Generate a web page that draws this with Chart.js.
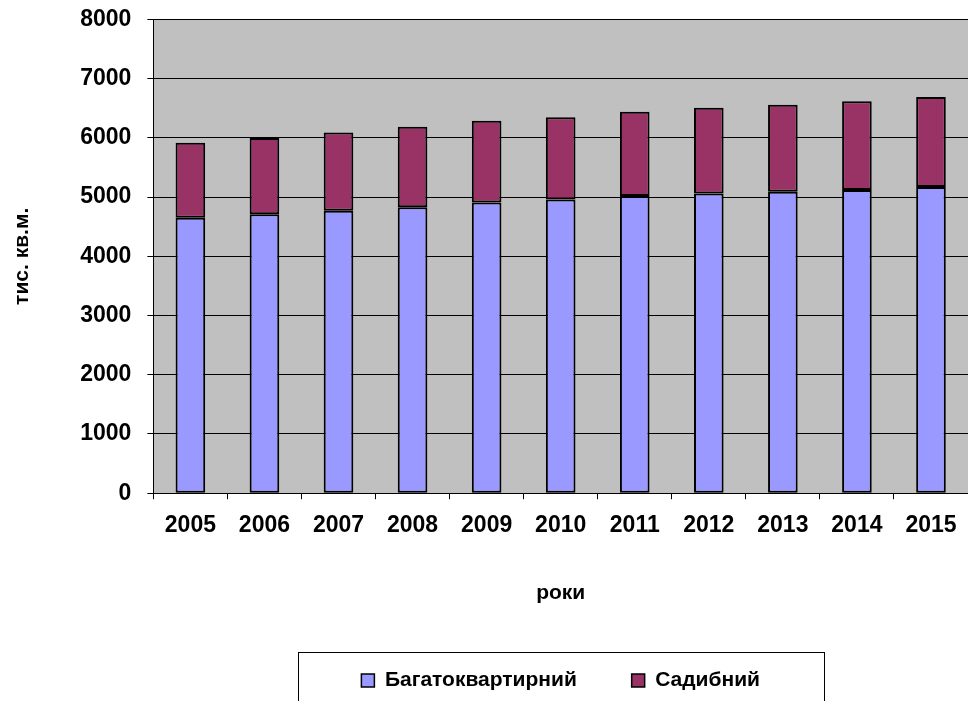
<!DOCTYPE html>
<html>
<head>
<meta charset="utf-8">
<script src="https://cdn.jsdelivr.net/npm/chart.js@4/dist/chart.umd.min.js"></script>
<style>
html,body{margin:0;padding:0;background:#fff;}
#wrap{width:968px;height:701px;}
</style>
</head>
<body>
<div id="wrap"><canvas id="c" width="968" height="701"></canvas></div>
<script>
const years = ['2005','2006','2007','2008','2009','2010','2011','2012','2013','2014','2015'];
const multiApartment = [4650,4710,4770,4830,4910,4960,5020,5060,5090,5120,5170];
const privateHouses = [1270,1290,1320,1360,1380,1390,1420,1450,1470,1500,1520];
const seriesNames = ['Багатоквартирний','Садибний'];
const yTitle = 'тис. кв.м.';
const xTitle = 'роки';

const FONT = "'Liberation Sans', Arial, sans-serif";

const bgPlugin = {
  id: 'plotBg',
  beforeDraw(chart) {
    const a = chart.chartArea, ctx = chart.ctx;
    ctx.save();
    ctx.fillStyle = '#c0c0c0';
    ctx.fillRect(a.left, a.top, a.right - a.left, a.bottom - a.top);
    ctx.restore();
  },
  afterDraw(chart) {
    const lg = chart.legend, ctx = chart.ctx;
    if (!lg) return;
    const cx = (chart.chartArea.left + chart.chartArea.right) / 2;
    ctx.save();
    ctx.strokeStyle = '#000';
    ctx.lineWidth = 1;
    ctx.strokeRect(Math.round(cx - 263) + 0.5, Math.round(lg.top) - 4 + 0.5, 526, 80);
    ctx.restore();
  }
};

new Chart(document.getElementById('c'), {
  type: 'bar',
  data: {
    labels: years,
    datasets: [
      { label: seriesNames[0], data: multiApartment, backgroundColor: '#9999ff', borderColor: '#000', borderWidth: 2, borderSkipped: false },
      { label: seriesNames[1], data: privateHouses, backgroundColor: '#993366', borderColor: '#000', borderWidth: 2, borderSkipped: false }
    ]
  },
  options: {
    responsive: false,
    animation: false,
    devicePixelRatio: 1,
    layout: { padding: { top: 3, right: -2, left: 10, bottom: 0 } },
    datasets: { bar: { barPercentage: 0.4, categoryPercentage: 1.0 } },
    scales: {
      x: {
        stacked: true,
        offset: true,
        afterFit: (scale) => { scale.paddingRight = 0; },
        grid: { display: true, drawOnChartArea: false, offset: true, color: '#000', tickLength: 6, tickColor: '#000' },
        border: { display: true, color: '#000', width: 1 },
        ticks: { color: '#000', font: { family: FONT, size: 23, weight: 'bold' }, padding: 13, maxRotation: 0 },
        title: { display: true, text: xTitle, color: '#000', font: { family: FONT, size: 21, weight: 'bold' }, padding: { top: 28, bottom: 50 } }
      },
      y: {
        stacked: true,
        min: 0, max: 8000,
        grid: { color: '#000', lineWidth: 1, tickLength: 6, tickColor: '#000' },
        border: { display: true, color: '#000', width: 1 },
        ticks: { stepSize: 1000, color: '#000', font: { family: FONT, size: 23, weight: 'bold', lineHeight: 0.3 }, padding: 16,
          callback: (v) => String(v) },
        title: { display: true, text: yTitle, color: '#000', font: { family: FONT, size: 21, weight: 'bold' }, padding: { top: 0, bottom: 29 } }
      }
    },
    plugins: {
      legend: {
        position: 'bottom',
        fullSize: false,
        labels: {
          color: '#000',
          font: { family: FONT, size: 21, weight: 'bold' },
          boxWidth: 13, boxHeight: 13,
          padding: 14,
          generateLabels(chart) {
            const ds = chart.data.datasets;
            return ds.map((d, i) => ({
              text: i < ds.length - 1 ? d.label + '       ' : d.label,
              fillStyle: d.backgroundColor, strokeStyle: '#000', lineWidth: 1.5, datasetIndex: i, hidden: false
            }));
          }
        }
      },
      tooltip: { enabled: false }
    }
  },
  plugins: [bgPlugin]
});
</script>
</body>
</html>
